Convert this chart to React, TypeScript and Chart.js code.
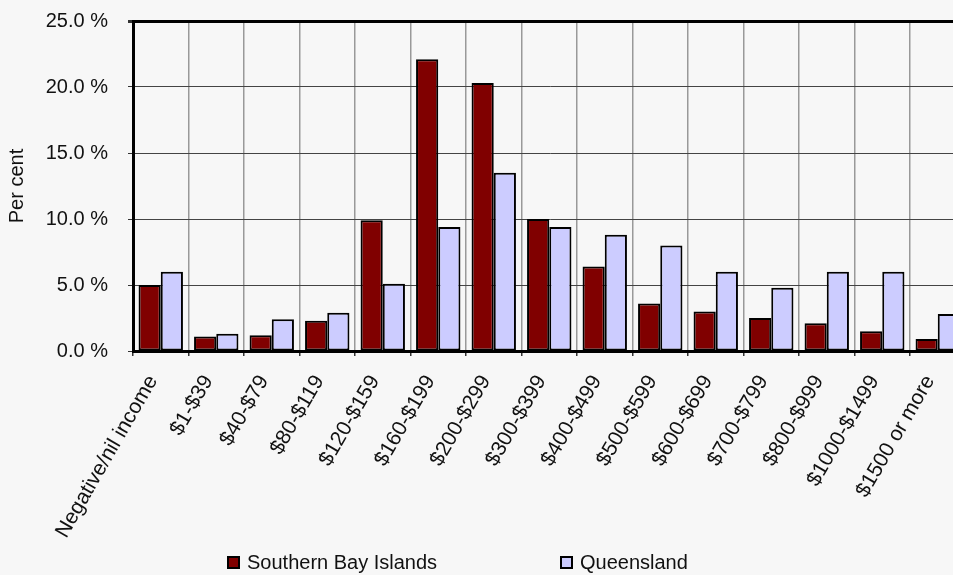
import React, { useEffect, useRef } from "react";
import { Chart, registerables } from "chart.js";

Chart.register(...registerables);

const categories = [
  "Negative/nil income",
  "$1-$39",
  "$40-$79",
  "$80-$119",
  "$120-$159",
  "$160-$199",
  "$200-$299",
  "$300-$399",
  "$400-$499",
  "$500-$599",
  "$600-$699",
  "$700-$799",
  "$800-$999",
  "$1000-$1499",
  "$1500 or more",
];

const southernBayIslands = [5.0, 1.1, 1.2, 2.3, 9.9, 22.1, 20.3, 10.0, 6.4, 3.6, 3.0, 2.5, 2.1, 1.5, 0.9];
const queensland = [6.0, 1.3, 2.4, 2.9, 5.1, 9.4, 13.5, 9.4, 8.8, 8.0, 6.0, 4.8, 6.0, 6.0, 2.8];

const seriesNames = ["Southern Bay Islands", "Queensland"];
const seriesColors = ["#800000", "#CCCCFF"];

const yTicks = [0, 5, 10, 15, 20, 25];

const FONT = "'Liberation Sans', Arial, sans-serif";
const BG = "#f7f7f7";

// canvas is shifted up so the plot area can start close to the top edge
const SHIFT = 11;
const CANVAS_W = 1000;
const CANVAS_H = 575 + SHIFT;

const bgPlugin = {
  id: "bg",
  beforeDraw(chart: any) {
    const { ctx, width, height } = chart;
    ctx.save();
    ctx.fillStyle = BG;
    ctx.fillRect(0, 0, width, height);
    ctx.restore();
  },
};

const legendPlugin = {
  id: "customLegend",
  afterDraw(chart: any) {
    const { ctx } = chart;
    const items = [
      { x: 227, label: seriesNames[0], color: seriesColors[0] },
      { x: 560, label: seriesNames[1], color: seriesColors[1] },
    ];
    const y = 556 + SHIFT;
    ctx.save();
    items.forEach((it) => {
      ctx.fillStyle = it.color;
      ctx.fillRect(it.x, y, 13, 13);
      ctx.strokeStyle = "#000";
      ctx.lineWidth = 2;
      ctx.strokeRect(it.x + 1, y + 1, 11, 11);
      ctx.fillStyle = "#111";
      ctx.font = `20px ${FONT}`;
      ctx.textBaseline = "middle";
      ctx.textAlign = "left";
      ctx.fillText(it.label, it.x + 20, y + 7);
    });
    ctx.restore();
  },
};

export default function App() {
  const ref = useRef<HTMLCanvasElement | null>(null);

  useEffect(() => {
    if (!ref.current) return;
    const chart = new Chart(ref.current, {
      type: "bar",
      data: {
        labels: categories,
        datasets: [
          {
            label: seriesNames[0],
            data: southernBayIslands,
            backgroundColor: seriesColors[0],
            borderColor: "#000",
            borderWidth: 2,
            borderSkipped: false,
          },
          {
            label: seriesNames[1],
            data: queensland,
            backgroundColor: seriesColors[1],
            borderColor: "#000",
            borderWidth: 2,
            borderSkipped: false,
          },
        ],
      },
      options: {
        animation: false,
        responsive: false,
        maintainAspectRatio: false,
        layout: { padding: { left: 0, top: 0, right: CANVAS_W - 965.5, bottom: 0 } },
        datasets: {
          bar: { categoryPercentage: 0.8, barPercentage: 1.0 },
        },
        plugins: {
          legend: { display: false },
          tooltip: { enabled: false },
        },
        scales: {
          x: {
            grid: {
              color: "#999",
              lineWidth: 1.5,
              offset: true,
              tickLength: 5,
              tickColor: "#333",
            },
            border: { color: "#000", width: 3 },
            ticks: {
              autoSkip: false,
              minRotation: 60,
              maxRotation: 60,
              padding: 15,
              labelOffset: -8,
              color: "#111",
              font: { family: FONT, size: 21 },
            },
            afterFit(scale: any) {
              scale.height = CANVAS_H - (351 + SHIFT);
            },
          },
          y: {
            min: 0,
            max: 25,
            afterBuildTicks(scale: any) {
              scale.ticks = yTicks.map((v) => ({ value: v }));
            },
            grid: {
              color: (c: any) => (c.tick && c.tick.value === 25 ? "#000" : "#444"),
              lineWidth: (c: any) => (c.tick && c.tick.value === 25 ? 3 : 1),
              tickLength: 5,
              tickColor: "#333",
            },
            border: { color: "#000", width: 3 },
            ticks: {
              padding: 20,
              color: "#111",
              font: { family: FONT, size: 20 },
              callback: (v: any) => Number(v).toFixed(1) + " %",
            },
            title: {
              display: true,
              text: "Per cent",
              color: "#111",
              font: { family: FONT, size: 20 },
              padding: { top: 5, bottom: 0 },
            },
            afterFit(scale: any) {
              scale.width = 133;
            },
          },
        },
      },
      plugins: [bgPlugin, legendPlugin],
    });
    return () => chart.destroy();
  }, []);

  return (
    <div
      style={{
        position: "fixed",
        left: 0,
        top: 0,
        width: 953,
        height: 575,
        overflow: "hidden",
        background: BG,
      }}
    >
      <canvas
        ref={ref}
        width={CANVAS_W}
        height={CANVAS_H}
        style={{ display: "block", width: CANVAS_W, height: CANVAS_H, marginTop: -SHIFT }}
      />
    </div>
  );
}
